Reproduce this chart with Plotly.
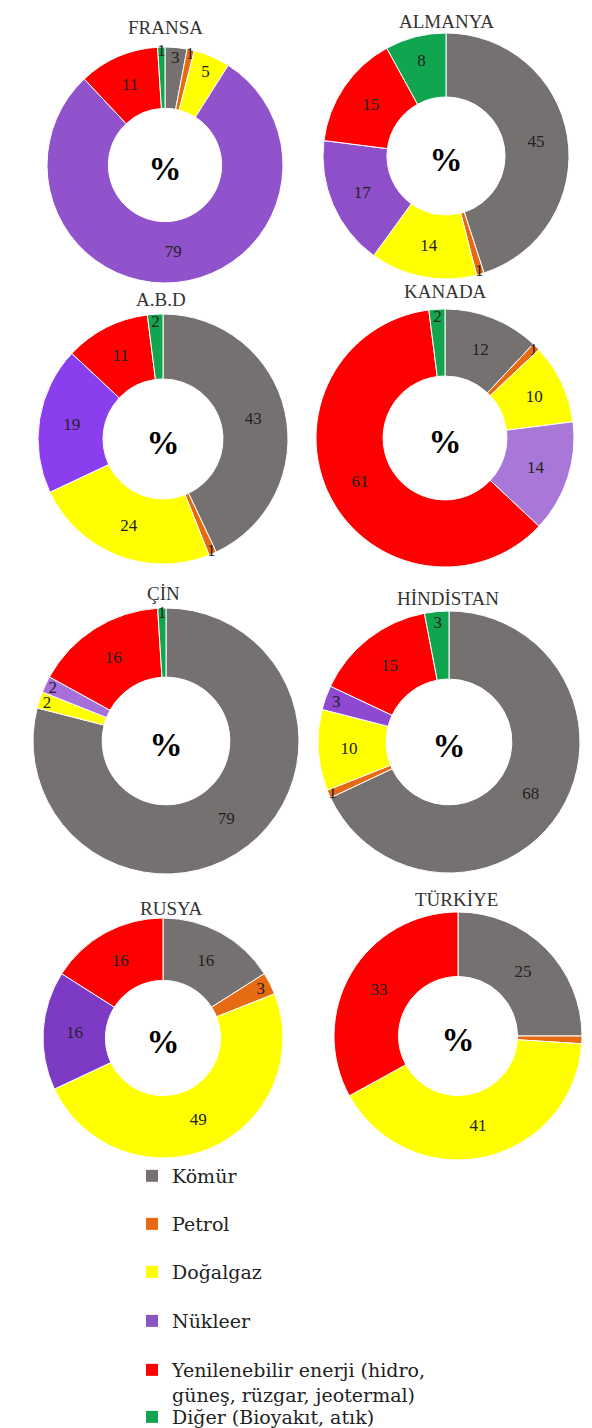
import plotly.graph_objects as go

# ---------------- data ----------------
categories = ["Kömür", "Petrol", "Doğalgaz", "Nükleer",
              "Yenilenebilir enerji (hidro,<br>güneş, rüzgar, jeotermal)",
              "Diğer (Bioyakıt, atık)"]

countries = ["FRANSA", "ALMANYA", "A.B.D", "KANADA", "ÇİN", "HİNDİSTAN", "RUSYA", "TÜRKİYE"]

fransa    = [3, 1, 5, 79, 11, 1]
almanya   = [45, 1, 14, 17, 15, 8]
abd       = [43, 1, 24, 19, 11, 2]
kanada    = [12, 1, 10, 14, 61, 2]
cin       = [79, 0, 2, 2, 16, 1]
hindistan = [68, 1, 10, 3, 15, 3]
rusya     = [16, 3, 49, 16, 16, 0]
turkiye   = [25, 1, 41, 0, 33, 0]

country_values = [fransa, almanya, abd, kanada, cin, hindistan, rusya, turkiye]
# slices drawn without a printed value
unlabelled = {("TÜRKİYE", "Petrol")}

# ---------------- style ----------------
W, H = 592, 1428
base_colors = ["#767171", "#E66A12", "#FFFF00", "#8B55C4", "#FF0000", "#12A54F"]
purple_by_country = {
    "FRANSA": "#9153CB", "ALMANYA": "#8E4FC8", "A.B.D": "#8A3EEE", "KANADA": "#A877D8",
    "ÇİN": "#A66FD9", "HİNDİSTAN": "#8F48D1", "RUSYA": "#7D3BC5", "TÜRKİYE": "#8B55C4",
}
# pie centre (px), radius (px)
pie_geom = {
    "FRANSA": (157, 157, 118), "ALMANYA": (438, 148, 123),
    "A.B.D": (155, 431, 125), "KANADA": (437, 430, 129),
    "ÇİN": (158, 733, 133), "HİNDİSTAN": (441, 734, 131),
    "RUSYA": (155, 1030, 120), "TÜRKİYE": (450, 1028, 124),
}
title_pos = {
    "FRANSA": (157, 20), "ALMANYA": (438, 14), "A.B.D": (153, 292), "KANADA": (437, 284),
    "ÇİN": (156, 585), "HİNDİSTAN": (440, 590), "RUSYA": (163, 900), "TÜRKİYE": (448, 891),
}
SERIF = "Liberation Serif, Times New Roman, serif"
LEGEND_SERIF = "DejaVu Serif, Liberation Serif, serif"

fig = go.Figure()

for name, vals in zip(countries, country_values):
    cx, cy, r = pie_geom[name]
    colors = list(base_colors)
    colors[3] = purple_by_country[name]
    labs, vs, cols, txt = [], [], [], []
    for c, v, col in zip(categories, vals, colors):
        if v <= 0:
            continue
        labs.append(c)
        vs.append(v)
        cols.append(col)
        short = c.split(" ")[0] if c.startswith("Yenilenebilir") else c
        txt.append("" if (name, short) in unlabelled else str(v))
    fig.add_trace(go.Pie(
        labels=labs, values=vs, text=txt,
        textinfo="text", texttemplate="%{text}",
        textposition="inside", insidetextorientation="horizontal",
        textfont=dict(family=SERIF, size=17, color="#222222"),
        insidetextfont=dict(family=SERIF, size=17, color="#222222"),
        marker=dict(colors=cols, line=dict(color="#FFFFFF", width=1)),
        hole=0.48, sort=False, direction="clockwise", rotation=0,
        showlegend=False, name=name,
        title=dict(text="<b>%</b>", position="middle center",
                   font=dict(family=SERIF, size=33, color="#000000")),
        domain=dict(x=[(cx - r) / W, (cx + r) / W],
                    y=[1 - (cy + r) / H, 1 - (cy - r) / H]),
    ))
    tx, ty = title_pos[name]
    fig.add_annotation(text=name, x=tx / W, y=1 - ty / H, xref="paper", yref="paper",
                       xanchor="center", yanchor="middle", showarrow=False,
                       font=dict(family=SERIF, size=19, color="#333333"))

# legend: one legend per row so the rows can be spaced like the original
legend_rows = [1172, 1220, 1268, 1317, 1366, 1413]
legend_ids = ["legend", "legend2", "legend3", "legend4", "legend5", "legend6"]
for cat, col, lid in zip(categories, base_colors, legend_ids):
    fig.add_trace(go.Scatter(
        x=[None], y=[None], mode="markers", name=cat, legend=lid,
        marker=dict(symbol="square", size=12, color=col),
        hoverinfo="skip",
    ))

layout_legends = {}
for lid, ry in zip(legend_ids, legend_rows):
    layout_legends[lid] = dict(
        x=124 / W, y=1 - (ry - 23) / H, xanchor="left", yanchor="top",
        bgcolor="rgba(0,0,0,0)", borderwidth=0, valign="top",
        font=dict(family=LEGEND_SERIF, size=19, color="#222222"),
        itemclick=False, itemdoubleclick=False,
    )

fig.update_layout(
    width=W, height=H,
    margin=dict(l=0, r=0, t=0, b=0),
    paper_bgcolor="white", plot_bgcolor="white",
    font=dict(family=SERIF, color="#222222"),
    xaxis=dict(visible=False), yaxis=dict(visible=False),
    uniformtext=dict(minsize=17, mode="show"),
    **layout_legends,
)

fig.write_html("out.html")
